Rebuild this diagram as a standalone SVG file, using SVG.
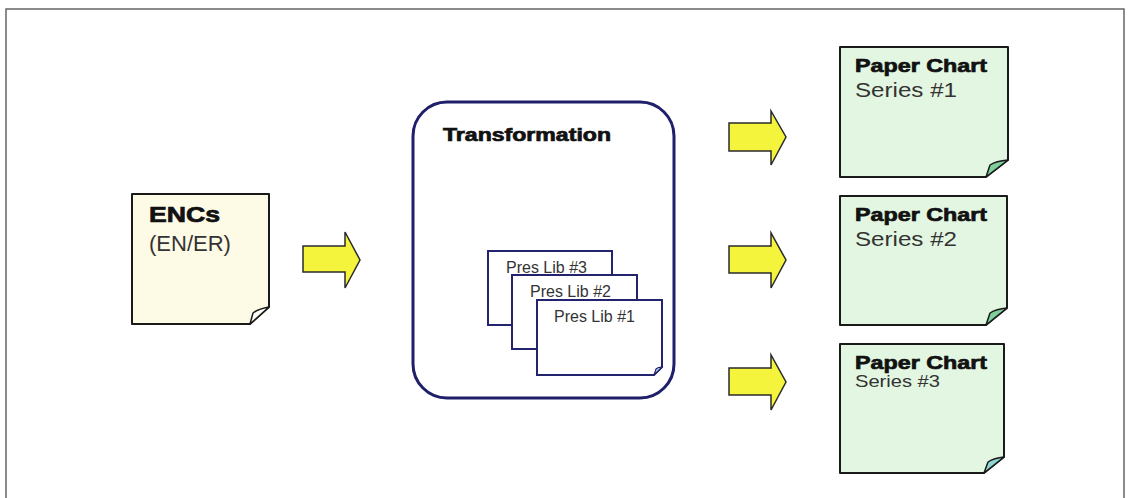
<svg xmlns="http://www.w3.org/2000/svg" width="1129" height="498" viewBox="0 0 1129 498">
<style>
.frame{fill:none;stroke:#666;stroke-width:1.5}
.page{stroke:#1a1a1a;stroke-width:2;stroke-linejoin:round}
.enc{fill:#fdfae6}
.chart{fill:#e3f6e1}
.flap{stroke:#1a1a1a;stroke-width:1.5;stroke-linejoin:round}
.arrow{fill:#f4f43c;stroke:#2a2a2a;stroke-width:1.5;stroke-linejoin:miter}
.lib{fill:#fff;stroke:#23236e;stroke-width:2}
.bold{font-family:"Liberation Sans",Arial,sans-serif;font-weight:bold;fill:#111;stroke:#111;stroke-width:0.7}
.reg{font-family:"Liberation Sans",Arial,sans-serif;fill:#333}
</style>
<path class="frame" d="M6,498 V9 H1124 V498"/>
<g id="connectors">
<path class="arrow" d="M303,246 H345 V232 L360,260 L345,288 V272 H303 Z"/>
<path class="arrow" d="M729,123 H771 V111 L786,137 L771,165 V151 H729 Z"/>
<path class="arrow" d="M729,246 H771 V233 L786,260 L771,288 V273 H729 Z"/>
<path class="arrow" d="M729,368 H771 V355 L786,382 L771,410 V395 H729 Z"/>
</g>
<g id="encs">
<path class="page enc" d="M132,194 H269 V307 L250,324 H132 Z"/>
<path class="flap" fill="#fffef6" d="M269,307 L250,324 L253,313 Q258,309 269,307 Z"/>
<text class="bold" x="149" y="222" font-size="22" textLength="71" lengthAdjust="spacingAndGlyphs">ENCs</text>
<text class="reg" x="149" y="251" font-size="22">(EN/ER)</text>
</g>
<g id="transformation">
<rect x="413" y="102" width="261" height="296" rx="34" fill="#fff" stroke="#1f1f6a" stroke-width="3"/>
<text class="bold" x="443" y="141" font-size="18" textLength="168" lengthAdjust="spacingAndGlyphs">Transformation</text>
</g>
<g id="preslib3">
<rect class="lib" x="488" y="251" width="124" height="74"/>
<text class="reg" x="506" y="273" font-size="16" fill="#222">Pres Lib #3</text>
</g>
<g id="preslib2">
<rect class="lib" x="512" y="275" width="125" height="74"/>
<text class="reg" x="530" y="297" font-size="16" fill="#222">Pres Lib #2</text>
</g>
<g id="preslib1">
<path class="lib" d="M537,300 H662 V367 L654,375 H537 Z"/>
<path d="M662,367 L654,375 L656,369 Q658,367 662,367 Z" fill="#bfe3f5" stroke="#23236e" stroke-width="1.2"/>
<text class="reg" x="554" y="322" font-size="16" fill="#222">Pres Lib #1</text>
</g>
<g id="chart1">
<path class="page chart" d="M840,47 H1008 V160 L986,177 H840 Z"/>
<path class="flap" fill="#7fcf9a" d="M1008,160 L986,177 L990,165 Q996,161 1008,160 Z"/>
<text class="bold" x="855" y="72" font-size="19" textLength="132" lengthAdjust="spacingAndGlyphs">Paper Chart</text>
<text class="reg" x="855" y="97" font-size="21" textLength="102" lengthAdjust="spacingAndGlyphs">Series #1</text>
</g>
<g id="chart2">
<path class="page chart" d="M840,196 H1007 V308 L986,325 H840 Z"/>
<path class="flap" fill="#7fcf9a" d="M1007,308 L986,325 L990,313 Q996,309 1007,308 Z"/>
<text class="bold" x="855" y="221" font-size="19" textLength="132" lengthAdjust="spacingAndGlyphs">Paper Chart</text>
<text class="reg" x="855" y="246" font-size="21" textLength="102" lengthAdjust="spacingAndGlyphs">Series #2</text>
</g>
<g id="chart3">
<path class="page chart" d="M840,344 H1004 V457 L984,473 H840 Z"/>
<path class="flap" fill="#8fd6d0" d="M1004,457 L984,473 L988,462 Q994,458 1004,457 Z"/>
<text class="bold" x="855" y="369" font-size="19" textLength="132" lengthAdjust="spacingAndGlyphs">Paper Chart</text>
<text class="reg" x="855" y="387" font-size="17" textLength="85" lengthAdjust="spacingAndGlyphs">Series #3</text>
</g>
</svg>
